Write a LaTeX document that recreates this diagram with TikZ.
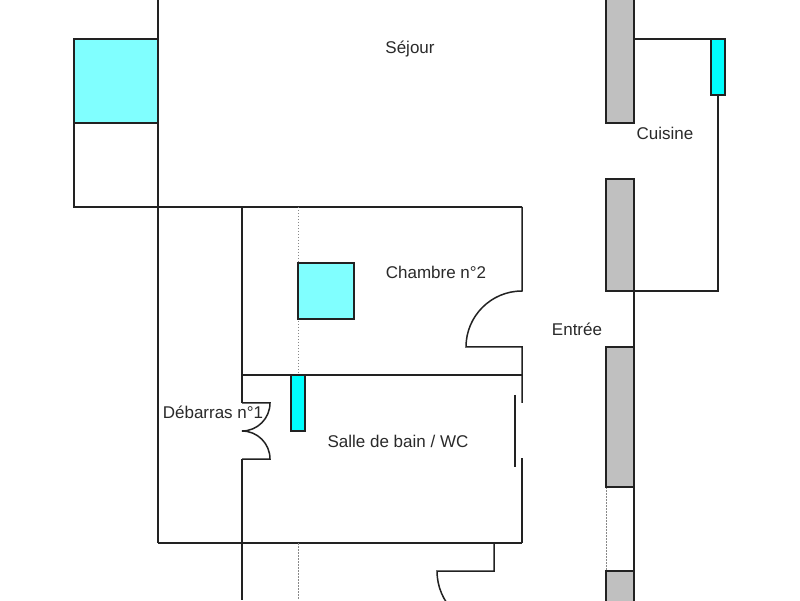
\documentclass[tikz,border=0pt]{standalone}
\usepackage{fontspec}
\setmainfont{Liberation Sans}
\definecolor{wallc}{HTML}{222222}
\definecolor{lcyan}{HTML}{80FFFF}
\definecolor{dcyan}{HTML}{00FFFF}
\definecolor{grayw}{HTML}{C0C0C0}
\definecolor{txt}{HTML}{2A2A2A}
\definecolor{dotc}{HTML}{888888}
\tikzset{
  wall/.style={draw=wallc, line width=1.5pt},
  cyanbox/.style={wall, fill=lcyan},
  cyanbar/.style={wall, fill=dcyan},
  graybox/.style={wall, fill=grayw},
  dotline/.style={draw=dotc, line width=0.8pt, dash pattern=on 1.5pt off 1.5pt},
  lbl/.style={text=txt, font=\fontsize{17}{19}\selectfont, inner sep=0pt}
}
\begin{document}
\begin{tikzpicture}[x=1pt,y=1pt]
\useasboundingbox (0,0) rectangle (800,600);
\fill[white] (0,0) rectangle (800,600);
\begin{scope}
\clip (0,0) rectangle (800,600);
% Sejour annex
\draw[wall] (74,561) rectangle (158,393);
\draw[cyanbox] (74,561) rectangle (158,477);
% main walls
\draw[wall] (158,600) -- (158,57);
\draw[wall] (74,393) -- (522,393);
\draw[wall] (242,393) -- (242,197);
\draw[wall] (242,141) -- (242,0);
% Debarras double door
\draw[wall] (242,197) -- (270,197) arc[start angle=0, end angle=-90, radius=28];
\draw[wall] (242,141) -- (270,141) arc[start angle=0, end angle=90, radius=28];
% bathroom top
\draw[wall] (242,225) -- (522,225);
% right wall of chambre/bath
\draw[wall] (522,393) -- (522,309) arc[start angle=90, end angle=180, radius=56] -- (522,253) -- (522,197);
\draw[wall] (522,142) -- (522,57);
\draw[wall] (515,205) -- (515,133);
% bottom wall
\draw[wall] (158,57) -- (522,57);
\draw[wall] (494,57) -- (494,29) -- (437,29) arc[start angle=180, end angle=270, radius=57];
% dotted lines
\draw[dotline] (298,393) -- (298,225);
\draw[dotline] (298,57) -- (298,0);
\draw[dotline] (606,113) -- (606,29);
% cyan elements
\draw[cyanbox] (298,337) rectangle (354,281);
\draw[cyanbar] (291,225) rectangle (305,169);
% entree / right column
\draw[wall] (634,309) -- (634,0);
\draw[graybox] (606,602) rectangle (634,477);
\draw[graybox] (606,421) rectangle (634,309);
\draw[graybox] (606,253) rectangle (634,113);
\draw[graybox] (606,29) rectangle (634,-2);
% kitchen
\draw[wall] (634,561) -- (711,561);
\draw[wall] (718,505) -- (718,309) -- (634,309);
\draw[cyanbar] (711,561) rectangle (725,505);
\end{scope}
% labels
\node[lbl] (sejour) at (410,551) {Séjour};
\node[lbl] (cuisine) at (665,467) {Cuisine};
\node[lbl] (chambre) at (436,328) {Chambre n°2};
\node[lbl] (entree) at (577,271) {Entrée};
\node[lbl] (debarras) at (213,188) {Débarras n°1};
\node[lbl] (sdb) at (398,159) {Salle de bain / WC};
\end{tikzpicture}
\end{document}
